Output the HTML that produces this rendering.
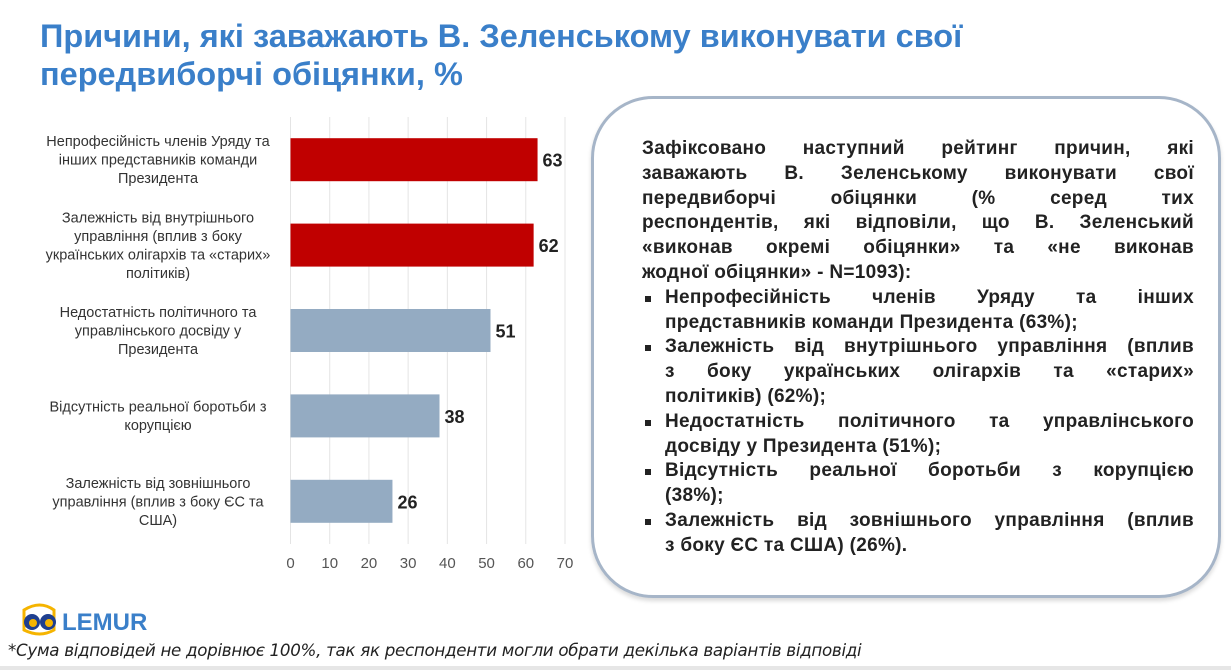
<!DOCTYPE html>
<html><head><meta charset="utf-8">
<style>
body{margin:0;width:1231px;height:670px;background:#fff;position:relative;overflow:hidden;font-family:"Liberation Sans","DejaVu Sans",sans-serif;}
.title{position:absolute;left:40px;top:17px;font-size:32.5px;font-weight:bold;color:#3a7fc9;line-height:38px;}
.box{position:absolute;left:591px;top:96px;width:630px;height:502px;border:3px solid #a6b5c8;border-radius:62px;box-sizing:border-box;box-shadow:0 3px 4px rgba(0,0,0,0.15);}
.txt{position:absolute;left:642px;top:137px;width:552px;font-size:19px;font-weight:bold;color:#222;line-height:24.8px;font-family:"Liberation Sans",sans-serif;letter-spacing:0.3px;}
.txt div{white-space:nowrap;}
.j{text-align:justify;text-align-last:justify;}
.b{position:relative;padding-left:23px;}
.bl{position:absolute;left:3px;top:10px;width:6px;height:6px;background:#222;}
.foot{position:absolute;left:8px;top:640px;font-size:16.7px;font-style:italic;color:#222;font-family:"DejaVu Sans","Liberation Sans",sans-serif;letter-spacing:-0.3px;}
.band{position:absolute;left:0;top:666px;width:1231px;height:4px;background:#e6e6e6;}
.logo{position:absolute;left:20px;top:600px;}
</style></head><body>
<div class="title">Причини, які заважають В. Зеленському виконувати свої<br>передвиборчі обіцянки, %</div>
<svg id="chart" width="590" height="600" style="position:absolute;left:0;top:0"></svg>
<div class="box"></div>
<div class="txt">
<div class="j">Зафіксовано наступний рейтинг причин, які</div>
<div class="j">заважають В. Зеленському виконувати свої</div>
<div class="j">передвиборчі обіцянки (% серед тих</div>
<div class="j">респондентів, які відповіли, що В. Зеленський</div>
<div class="j">«виконав окремі обіцянки» та «не виконав</div>
<div>жодної обіцянки» - N=1093):</div>
<div class="b"><span class="bl"></span><div class="j">Непрофесійність членів Уряду та інших</div><div>представників команди Президента (63%);</div></div>
<div class="b"><span class="bl"></span><div class="j">Залежність від внутрішнього управління (вплив</div><div class="j">з боку українських олігархів та «старих»</div><div>політиків) (62%);</div></div>
<div class="b"><span class="bl"></span><div class="j">Недостатність політичного та управлінського</div><div>досвіду у Президента (51%);</div></div>
<div class="b"><span class="bl"></span><div class="j">Відсутність реальної боротьби з корупцією</div><div>(38%);</div></div>
<div class="b"><span class="bl"></span><div class="j">Залежність від зовнішнього управління (вплив</div><div>з боку ЄС та США) (26%).</div></div>
</div>
<svg class="logo" width="150" height="36">
<path d="M4 10 Q20 0 34 10 L34 30 Q20 38 4 30 Z" fill="none" stroke="#f5b400" stroke-width="3"/>
<circle cx="12" cy="22" r="8" fill="#1f3f8f"/><circle cx="28" cy="22" r="8" fill="#1f3f8f"/>
<circle cx="13" cy="23" r="4" fill="#f5b400"/><circle cx="29" cy="23" r="4" fill="#f5b400"/>
<text x="42" y="30" font-family="Liberation Sans" font-weight="bold" font-size="24" fill="#3a7fc9">LEMUR</text>
</svg>
<div class="foot">*Сума відповідей не дорівнює 100%, так як респонденти могли обрати декілька варіантів відповіді</div>
<div class="band"></div>
<script>
const categories=[["Непрофесійність членів Уряду та","інших представників команди","Президента"],["Залежність від внутрішнього","управління (вплив з боку","українських олігархів та «старих»","політиків)"],["Недостатність політичного та","управлінського досвіду у","Президента"],["Відсутність реальної боротьби з","корупцією"],["Залежність від зовнішнього","управління (вплив з боку ЄС та","США)"]];
const values=[63,62,51,38,26];
const colors=["#c00000","#c00000","#94abc2","#94abc2","#94abc2"];
const ticks=[0,10,20,30,40,50,60,70];
const NS="http://www.w3.org/2000/svg";
const svg=document.getElementById('chart');
const x0=290.5,xMax=70,xW=274.5,yTop=117,yBot=544;
const xs=v=>x0+v/xMax*xW;
const band=(yBot-yTop)/values.length;
const yc=i=>yTop+band*(i+0.5);
function mk(t,a){const e=document.createElementNS(NS,t);for(const k in a)e.setAttribute(k,a[k]);svg.appendChild(e);return e;}
ticks.forEach((t,i)=>{
 const l=mk('line',{x1:xs(t),x2:xs(t),y1:yTop,y2:yBot,stroke:'#e4e4e4','stroke-width':1});
 
 
 const tx=mk('text',{x:xs(t),y:568,'text-anchor':'middle','font-size':15,fill:'#555','font-family':'Liberation Sans'});
 tx.textContent=t;
 
 
});
values.forEach((v,i)=>{
 const r=mk('rect',{x:x0,y:yc(i)-21.5,width:xs(v)-x0,height:43,fill:colors[i]});
 
 
 const vt=mk('text',{x:xs(v)+5,y:yc(i)+7,'font-size':18,'font-weight':'bold',fill:'#222','font-family':'Liberation Sans'});
 vt.textContent=v;
 
 
 const lines=categories[i];
 const lh=18.5;
 const t=mk('text',{'text-anchor':'middle','font-size':14.5,fill:'#333','font-family':'Liberation Sans'});
 
 
 lines.forEach((s,j)=>{const ts=document.createElementNS(NS,'tspan');ts.setAttribute('x',158);ts.setAttribute('y',yc(i)+5+(j-(lines.length-1)/2)*lh);ts.textContent=s;t.appendChild(ts);});
});
</script>
</body></html>
